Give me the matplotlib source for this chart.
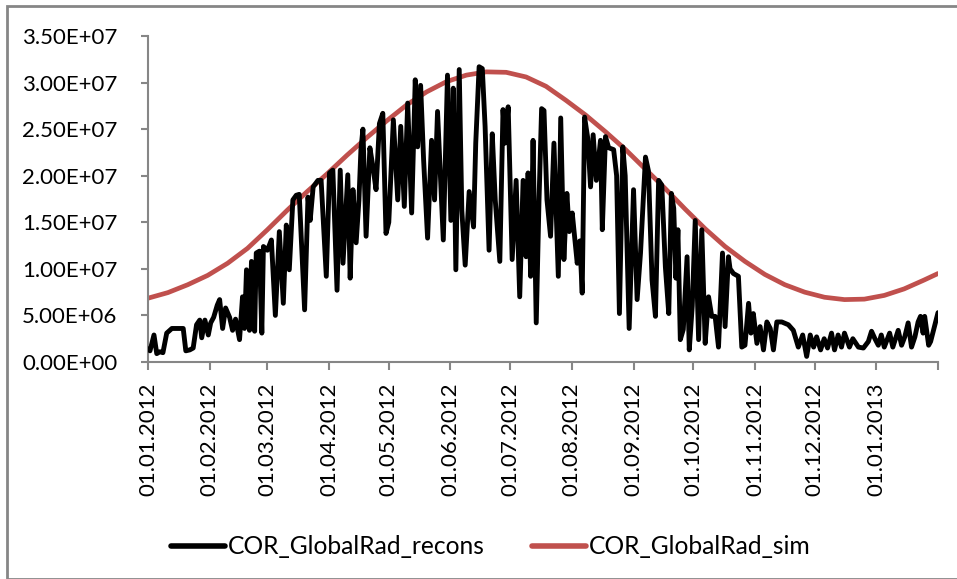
import numpy as np
import matplotlib
matplotlib.use("Agg")
import matplotlib.pyplot as plt
import matplotlib.dates as mdates
from matplotlib.ticker import FuncFormatter
from matplotlib.patches import Rectangle
from datetime import datetime

plt.rcParams['font.family'] = ['Lato', 'DejaVu Sans']

# ---- data (day offset from 01.01.2012, value in 1e6) ----
recons_days = [0, 1, 3, 4.4, 6, 7.5, 9.4, 12, 17.7, 19, 21, 22.7, 24.4, 26, 27, 28.6, 30.3, 31.5, 33,
               34.8, 36, 37.5, 39, 41, 42.5, 44, 46, 47.5, 48.5, 49.5, 51, 52, 53.6, 54.4, 56, 57.2,
               58, 60, 62, 64, 66, 68, 69.5, 71, 72.8, 74.5, 76, 78.7, 80.4, 81.5, 83, 85.4, 87,
               89.6, 91.2, 92.9, 95, 96.6, 98, 100.4, 101.6, 103, 104.6, 106, 107, 108, 109.6, 111.5,
               113, 114.6, 116.3, 118, 119.6, 121, 123.3, 125.5, 127, 128.8, 130.5, 132.5, 134.3,
               135.5, 137, 138.5, 140.5, 142.5, 144, 145.5, 148.4, 150.5, 152.2, 153.4, 154.7, 156.4,
               157.7, 159.4, 161.4, 163.6, 164.7, 166.4, 168, 169.4, 171.4, 173, 174.5, 176.8, 178.4,
               179.5, 181, 183, 185, 186.8, 188.5, 190, 191, 192.3, 193.5, 195.1, 196.5, 197.8, 199,
               200.5, 202.3, 204, 206.2, 207.4, 209, 210.5, 211.7, 213.2, 215.7, 217, 218.2, 219.4,
               221, 222.4, 223.7, 225.3, 227.4, 228.3, 229.9, 231.5, 234, 235.5, 236.9, 238.6, 239.8,
               241.8, 244, 245.8, 247.5, 250, 251.5, 253.3, 255, 256.6, 258.2, 260, 261.7, 263, 264.2,
               265.3, 266.3, 267.5, 269, 270.9, 272, 273.5, 275, 276.7, 278.3, 280, 281.7, 283.3, 285,
               286.7, 288.7, 290, 291.7, 292.5, 294.2, 296.7, 298.4, 300, 301.8, 303, 304.2, 306,
               307.6, 309.3, 311, 312.7, 314.3, 316, 318.5, 321.8, 324.3, 326.8, 329, 331, 332.8,
               334.5, 336, 338, 339.8, 341.5, 343.5, 345, 346.8, 348.5, 350, 352.5, 354.2, 357, 359.5,
               362, 363.6, 365.3, 367, 368.5, 370, 372.7, 374.3, 377, 378.7, 380.3, 382, 383.7, 385.4,
               387, 388.2, 389.5, 390.3, 392.3, 393.3, 397]
recons_vals = [1.4, 1.2, 2.9, 0.9, 1.1, 1.0, 3.1, 3.6, 3.6, 1.2, 1.3, 1.5, 4.0, 4.5, 2.6, 4.5, 2.9, 4.2, 4.8,
               6.1, 6.7, 3.6, 5.8, 4.8, 3.4, 4.6, 2.4, 7.0, 3.6, 9.9, 3.4, 10.8, 3.3, 11.7, 11.9, 3.1,
               12.4, 12.0, 13.1, 5.0, 14.0, 6.3, 14.7, 9.9, 17.4, 17.9, 18.0, 5.6, 17.7, 15.2, 18.8, 19.5, 19.5,
               9.2, 20.3, 20.6, 7.7, 20.6, 10.6, 20.1, 9.0, 18.5, 12.8, 17.4, 22.8, 25.0, 13.5, 23.0,
               21.0, 18.5, 25.6, 26.7, 13.8, 15.0, 26.0, 17.4, 25.3, 16.7, 27.8, 16.0, 30.3,
               23.1, 29.7, 21.7, 13.3, 23.8, 17.4, 26.9, 13.1, 30.8, 15.2, 29.4, 9.9, 31.4,
               16.3, 10.4, 18.3, 14.5, 23.5, 31.7, 31.5, 25.3, 12.0, 24.5, 17.4, 10.8, 27.1,
               23.5, 27.4, 11.0, 19.5, 7.0, 19.5, 11.3, 20.3, 9.2, 23.8, 4.2, 17.4, 27.2, 27.0,
               17.4, 13.5, 23.5, 9.2, 26.2, 11.0, 18.1, 14.0, 16.0, 10.6, 13.0, 7.4, 26.3,
               24.0, 18.8, 24.4, 19.5, 23.8, 14.2, 24.2, 23.0, 22.8, 20.0, 5.2, 23.1, 20.0,
               3.6, 18.5, 6.7, 11.7, 22.0, 20.5, 8.8, 4.9, 19.5, 19.0, 10.2, 5.2, 18.1, 16.5,
               9.0, 14.2, 2.4, 3.5, 11.3, 1.3, 6.0, 15.2, 2.4, 14.2, 2.0, 7.0, 4.9, 4.9,
               1.6, 11.7, 3.8, 11.3, 10.0, 9.5, 9.2, 1.6, 1.8, 6.3, 3.1, 5.2, 2.0,
               3.8, 1.3, 4.3, 3.6, 1.3, 4.3, 4.3, 4.0, 3.4, 1.6, 2.9, 0.6, 2.9,
               1.6, 2.7, 1.3, 2.5, 1.5, 3.1, 1.3, 2.9, 1.6, 3.1, 1.6, 2.5, 1.6, 1.5,
               2.2, 3.3, 2.5, 1.8, 2.9, 1.6, 3.1, 1.6, 3.4, 1.8, 2.7, 4.2, 1.6, 2.7,
               4.3, 4.9, 3.1, 4.9, 1.8, 2.2, 5.3]

sim_days = [0, 10, 20, 30, 40, 50, 60, 70, 80, 90, 100, 110, 120, 130, 140, 150, 160, 170, 180,
            190, 200, 210, 220, 230, 240, 250, 260, 270, 280, 290, 300, 310, 320, 330, 340, 350,
            360, 370, 380, 390, 397]
sim_vals = [6.85, 7.45, 8.3, 9.3, 10.6, 12.2, 14.2, 16.3, 18.3, 20.2, 22.2, 24.1, 25.9, 27.6, 29.0,
            30.1, 30.8, 31.15, 31.1, 30.6, 29.6, 28.1, 26.5, 24.7, 22.8, 20.7, 18.6, 16.4, 14.3,
            12.4, 10.8, 9.4, 8.3, 7.5, 6.95, 6.7, 6.75, 7.15, 7.85, 8.8, 9.5]

tick_dates = ["01.01.2012", "01.02.2012", "01.03.2012", "01.04.2012", "01.05.2012", "01.06.2012",
              "01.07.2012", "01.08.2012", "01.09.2012", "01.10.2012", "01.11.2012", "01.12.2012",
              "01.01.2013"]
y_ticks = [0, 5e6, 1e7, 1.5e7, 2e7, 2.5e7, 3e7, 3.5e7]

# ---- figure ----
W, H = 957, 579
fig = plt.figure(figsize=(W / 100, H / 100), dpi=100)
ax = fig.add_axes([148 / W, 1 - 362 / H, (938 - 148) / W, (362 - 36) / H])

base = mdates.date2num(datetime(2012, 1, 1))
xr = base + np.array(recons_days, dtype=float)
xs = base + np.array(sim_days, dtype=float)

ax.plot(xr, np.array(recons_vals) * 1e6, color="black", lw=3.5, solid_joinstyle="round",
        solid_capstyle="round", label="COR_GlobalRad_recons", zorder=3)
ax.plot(xs, np.array(sim_vals) * 1e6, color="#C0504D", lw=3.4, solid_joinstyle="round",
        solid_capstyle="round", label="COR_GlobalRad_sim", zorder=2)

ax.set_ylim(0, 3.5e7)
ax.set_xlim(base, mdates.date2num(datetime(2013, 2, 1)))
ax.set_yticks(y_ticks)
ax.yaxis.set_major_formatter(FuncFormatter(lambda v, p: f"{v:.2E}"))

tick_nums = [mdates.date2num(datetime.strptime(t, "%d.%m.%Y")) for t in tick_dates]
tick_nums.append(mdates.date2num(datetime(2013, 2, 1)))
ax.set_xticks(tick_nums)
ax.set_xticklabels(tick_dates + [""], rotation=90)

gray = "#868686"
for s in ["top", "right"]:
    ax.spines[s].set_visible(False)
for s in ["left", "bottom"]:
    ax.spines[s].set_color(gray)
    ax.spines[s].set_linewidth(1.5)
ax.tick_params(axis="y", direction="out", length=5, width=1.5, color=gray, pad=17, labelsize=16)
ax.tick_params(axis="x", direction="out", length=6, width=1.5, color=gray, pad=9, labelsize=16)
ax.set_facecolor("white")

leg = fig.legend(loc="center", bbox_to_anchor=(491 / W, 1 - 547 / H), ncol=2, frameon=False,
                 fontsize=17.7, handlelength=2.2, handletextpad=0.12, columnspacing=1.9)
for line in leg.get_lines():
    line.set_linewidth(4)

fig.patches.append(Rectangle((7 / W, 0), 1.2, (579 - 6) / H, transform=fig.transFigure,
                             fill=False, edgecolor=gray, linewidth=2, zorder=0))

fig.savefig("out.png", dpi=100, facecolor="white")
